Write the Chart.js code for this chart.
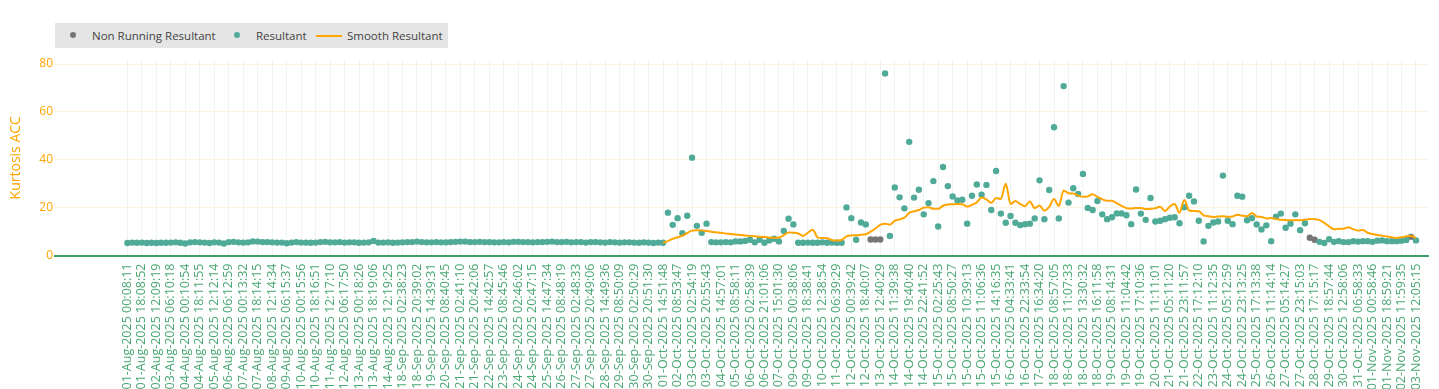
<!DOCTYPE html>
<html>
<head>
<meta charset="utf-8">
<title>Kurtosis ACC</title>
<script src="https://cdn.jsdelivr.net/npm/chart.js@4.4.0/dist/chart.umd.min.js"></script>
<style>
  body { margin: 0; background: #fff; font-family: "Open Sans", sans-serif; }
  .wrap { position: relative; width: 1439px; height: 389px; }
  #legend { position: absolute; left: 55px; top: 23px; width: 393px; height: 25px; background: #e5e5e5; font-size: 11.5px; color: #444; }
  #legend .item { position: absolute; top: 0; height: 25px; line-height: 25px; white-space: nowrap; }
  #legend .dot { position: absolute; top: 9px; width: 6px; height: 6px; border-radius: 50%; }
  #legend .line { position: absolute; top: 12px; width: 26px; height: 2px; }
</style>
</head>
<body>
<div class="wrap">
  <canvas id="kurt-chart" width="1439" height="389"></canvas>
  <div id="legend"></div>
</div>
<script>
// tick labels, one every 3 readings
const tickLabels = [
  "01-Aug-2025 00:08:11", "01-Aug-2025 18:08:52", "02-Aug-2025 12:09:19", "03-Aug-2025 06:10:18",
  "04-Aug-2025 00:10:54", "04-Aug-2025 18:11:55", "05-Aug-2025 12:12:14", "06-Aug-2025 06:12:59",
  "07-Aug-2025 00:13:32", "07-Aug-2025 18:14:15", "08-Aug-2025 12:14:34", "09-Aug-2025 06:15:37",
  "10-Aug-2025 00:15:56", "10-Aug-2025 18:16:51", "11-Aug-2025 12:17:10", "12-Aug-2025 06:17:50",
  "13-Aug-2025 00:18:26", "13-Aug-2025 18:19:06", "14-Aug-2025 12:19:25", "18-Sep-2025 02:38:23",
  "18-Sep-2025 20:39:02", "19-Sep-2025 14:39:31", "20-Sep-2025 08:40:45", "21-Sep-2025 02:41:10",
  "21-Sep-2025 20:42:06", "22-Sep-2025 14:42:57", "23-Sep-2025 08:45:46", "24-Sep-2025 02:46:02",
  "24-Sep-2025 20:47:15", "25-Sep-2025 14:47:34", "26-Sep-2025 08:48:19", "27-Sep-2025 02:48:33",
  "27-Sep-2025 20:49:06", "28-Sep-2025 14:49:36", "29-Sep-2025 08:50:09", "30-Sep-2025 02:50:29",
  "30-Sep-2025 20:51:30", "01-Oct-2025 14:51:48", "02-Oct-2025 08:53:47", "03-Oct-2025 02:54:19",
  "03-Oct-2025 20:55:43", "04-Oct-2025 14:57:01", "05-Oct-2025 08:58:11", "06-Oct-2025 02:58:39",
  "06-Oct-2025 21:01:06", "07-Oct-2025 15:01:30", "09-Oct-2025 00:38:06", "09-Oct-2025 18:38:41",
  "10-Oct-2025 12:38:54", "11-Oct-2025 06:39:29", "12-Oct-2025 00:39:42", "12-Oct-2025 18:40:07",
  "13-Oct-2025 12:40:29", "14-Oct-2025 11:39:38", "14-Oct-2025 19:40:40", "14-Oct-2025 22:41:52",
  "15-Oct-2025 02:25:43", "15-Oct-2025 08:50:27", "15-Oct-2025 10:39:13", "15-Oct-2025 11:06:36",
  "15-Oct-2025 14:16:35", "16-Oct-2025 04:33:41", "16-Oct-2025 22:33:54", "17-Oct-2025 16:34:20",
  "18-Oct-2025 08:57:05", "18-Oct-2025 11:07:33", "18-Oct-2025 13:30:32", "18-Oct-2025 16:11:58",
  "19-Oct-2025 08:14:31", "19-Oct-2025 11:04:42", "19-Oct-2025 17:10:36", "20-Oct-2025 11:11:01",
  "21-Oct-2025 05:11:20", "21-Oct-2025 23:11:57", "22-Oct-2025 17:12:10", "23-Oct-2025 11:12:35",
  "24-Oct-2025 05:12:59", "24-Oct-2025 23:13:25", "25-Oct-2025 17:13:38", "26-Oct-2025 11:14:14",
  "27-Oct-2025 05:14:27", "27-Oct-2025 23:15:03", "28-Oct-2025 17:15:17", "29-Oct-2025 18:57:44",
  "30-Oct-2025 12:58:06", "31-Oct-2025 06:58:33", "01-Nov-2025 00:58:46", "01-Nov-2025 18:59:21",
  "02-Nov-2025 11:59:35", "03-Nov-2025 12:05:15"
];

// resultant per reading (null where machine was not running)
const resultant = [
  5.2, 5.4, 5.3, 5.4, 5.2, 5.3, 5.2, 5.3, 5.3, 5.4,
  5.5, 5.3, 5.0, 5.5, 5.6, 5.5, 5.4, 5.2, 5.5, 5.4,
  5.0, 5.6, 5.7, 5.5, 5.4, 5.5, 5.9, 5.8, 5.6, 5.6,
  5.5, 5.4, 5.4, 5.1, 5.4, 5.6, 5.4, 5.4, 5.3, 5.4,
  5.6, 5.7, 5.5, 5.5, 5.6, 5.4, 5.5, 5.5, 5.3, 5.4,
  5.5, 6.1, 5.4, 5.4, 5.5, 5.3, 5.4, 5.5, 5.6, 5.6,
  5.8, 5.6, 5.5, 5.5, 5.6, 5.5, 5.5, 5.6, 5.7, 5.8,
  5.8, 5.6, 5.6, 5.7, 5.6, 5.6, 5.5, 5.5, 5.6, 5.5,
  5.7, 5.7, 5.6, 5.6, 5.5, 5.6, 5.6, 5.7, 5.8, 5.6,
  5.6, 5.7, 5.5, 5.6, 5.6, 5.4, 5.6, 5.6, 5.5, 5.4,
  5.6, 5.5, 5.4, 5.5, 5.5, 5.4, 5.3, 5.5, 5.4, 5.2,
  5.4, 5.3, 17.9, 12.8, 15.6, 9.3, 16.6, 40.9, 12.4, 9.5,
  13.3, 5.6, 5.5, 5.5, 5.6, 5.5, 5.9, 5.9, 6.1, 6.6,
  5.5, 6.6, 5.3, 6.3, 7.0, 5.9, 10.3, 15.4, 13.0, 5.3,
  5.3, 5.4, 5.3, 5.3, 5.5, 5.3, 5.4, 5.3, 5.3, 20.1,
  15.6, 6.6, 13.8, 13.0, null, null, null, 76.1, 8.2, 28.4,
  24.3, 19.7, 47.5, 24.2, 27.5, 17.2, 21.9, 31.1, 12.1, 37.0,
  29.0, 24.7, 23.0, 23.3, 13.3, 25.0, 29.7, 25.4, 29.5, 19.0,
  35.3, 17.5, 13.7, 16.5, 13.7, 12.7, 13.1, 13.3, 15.5, 31.4,
  15.2, 27.4, 53.6, 15.5, 70.8, 22.1, 28.1, 25.7, 34.1, 19.9,
  19.0, 22.8, 17.2, 15.2, 16.0, 17.6, 17.6, 16.8, 13.1, 27.6,
  17.5, 14.9, 24.0, 14.2, 14.5, 15.2, 15.8, 16.0, 13.5, 20.2,
  25.0, 22.6, 14.5, 5.9, 12.4, 13.8, 14.2, 33.4, 14.5, 13.1,
  25.0, 24.6, 14.7, 15.6, 13.0, 10.9, 12.6, 6.0, 16.2, 17.5,
  11.6, 13.3, 17.2, 10.6, 13.5, null, null, 5.7, 5.2, 6.8,
  5.7, 6.0, 5.6, 5.6, 6.0, 5.8, 6.0, 6.0, 5.7, 6.2,
  6.3, 6.0, 6.0, 6.0, 6.2, 6.5, null, 6.3
];

// non running readings
const nonRunIdx = [154, 155, 156, 245, 246, 266];
const nonRunVals = [6.7, 6.7, 6.7, 7.4, 6.6, 7.8];

// smoothed resultant, starts at reading 111
const smoothStart = 111;
const smooth = [
  5.3, 6.0, 7.0, 7.6, 8.3, 9.4, 10.4, 10.6, 10.5, 10.2,
  9.9, 9.7, 9.5, 9.2, 9.0, 8.8, 8.6, 8.4, 8.2, 8.0,
  7.8, 7.7, 7.5, 7.4, 7.5, 8.5, 9.6, 9.5, 9.2, 8.2,
  9.5, 10.8, 7.6, 7.3, 7.2, 6.4, 6.3, 6.5, 8.0, 8.4,
  8.5, 8.7, 8.9, 10.0, 11.3, 12.8, 13.3, 12.9, 14.5, 15.1,
  15.8, 17.8, 18.5, 19.0, 20.0, 20.2, 19.5, 19.5, 20.8, 21.3,
  21.4, 21.5, 21.4, 20.5, 21.2, 22.2, 24.2, 23.5, 22.0, 24.0,
  23.6, 30.0, 21.5, 22.8, 21.5, 20.6, 22.6, 19.8, 20.9, 18.8,
  20.3, 23.6, 20.7, 27.2, 26.0, 25.9, 25.0, 24.5, 24.7, 25.6,
  24.5, 23.5, 22.9, 22.9, 21.8, 20.7, 19.8, 19.6, 19.9, 19.9,
  19.4, 19.5, 19.8, 20.4, 18.6, 20.5, 21.5, 17.9, 23.2, 18.8,
  18.6, 18.5, 16.8, 16.4, 16.1, 16.3, 16.4, 16.2, 16.3, 17.0,
  16.6, 16.4, 17.8, 16.3, 16.1, 15.5, 15.7, 15.3, 14.9, 14.8,
  14.7, 14.7, 14.7, 14.9, 15.3, 15.2, 14.8, 13.6, 12.2, 11.0,
  11.2, 11.2, 11.8, 11.0, 10.4, 10.7, 9.5, 9.0, 8.6, 8.3,
  7.9, 7.6, 7.3, 7.6, 8.0, 8.2, 7.3
];

const yTicks = [0, 20, 40, 60, 80];

const GREEN = "#3c9e6a";
const LABEL_GREEN = "#4aa874";
const ORANGE = "#ffa500";
const GREY = "#767676";
const TEAL = "#4faa98";

let config = {
  type: "scatter",
  data: {
    datasets: [
      {
        label: "Smooth Resultant",
        type: "line",
        data: smooth.map((v, k) => ({ x: smoothStart + k, y: v })),
        borderColor: ORANGE,
        borderWidth: 2,
        pointRadius: 0,
        cubicInterpolationMode: "monotone",
        fill: false,
        order: 0,
      },
      {
        label: "Resultant",
        data: resultant.map((v, i) => ({ x: i, y: v })),
        backgroundColor: TEAL,
        borderColor: TEAL,
        pointRadius: 3.2,
        borderWidth: 0,
        order: 1,
      },
      {
        label: "Non Running Resultant",
        data: nonRunIdx.map((i, k) => ({ x: i, y: nonRunVals[k] })),
        backgroundColor: GREY,
        borderColor: GREY,
        pointRadius: 3.2,
        borderWidth: 0,
        order: 2,
      },
    ],
  },
  options: {
    responsive: false,
    animation: false,
    devicePixelRatio: 1,
    layout: { padding: { top: 60, right: 2, left: 0, bottom: 0 } },
    plugins: { legend: { display: false }, tooltip: { enabled: false } },
    scales: {
      x: {
        type: "linear",
        min: -15,
        max: 269.5,
        afterBuildTicks: (scale) => {
          scale.ticks = tickLabels.map((_, k) => ({ value: 3 * k }));
        },
        afterFit: (scale) => { scale.height = 133.5; },
        ticks: {
          autoSkip: false,
          minRotation: 90,
          maxRotation: 90,
          padding: 8,
          color: LABEL_GREEN,
          font: { family: "Open Sans", size: 12.5 },
          callback: (v) => tickLabels[v / 3] ?? "",
        },
        grid: { color: "#edf4f1", drawTicks: false },
        border: { color: GREEN, width: 2 },
      },
      y: {
        min: 0,
        max: 81.7,
        afterBuildTicks: (scale) => {
          scale.ticks = yTicks.map((v) => ({ value: v }));
        },
        afterFit: (scale) => { scale.width = 55; },
        ticks: {
          padding: 2,
          color: ORANGE,
          font: { family: "Open Sans", size: 12 },
        },
        grid: { color: "#fdf3e2", drawTicks: false },
        border: { display: false },
        title: {
          display: true,
          text: "Kurtosis ACC",
          color: ORANGE,
          font: { family: "Open Sans", size: 14 },
          padding: { top: 8, bottom: 0 },
        },
      },
    },
  },
};

let ctx = document.getElementById("kurt-chart").getContext("2d");
window.kurtChart = new Chart(ctx, config);

// plotly-like legend box
const legendItems = [
  { label: "Non Running Resultant", kind: "dot", color: GREY, mark: 15, text: 37 },
  { label: "Resultant", kind: "dot", color: TEAL, mark: 179, text: 201 },
  { label: "Smooth Resultant", kind: "line", color: ORANGE, mark: 261, text: 292 },
];
const legend = document.getElementById("legend");
legendItems.forEach((it) => {
  const m = document.createElement("div");
  m.className = it.kind;
  m.style.left = it.mark + "px";
  m.style.background = it.color;
  legend.appendChild(m);
  const t = document.createElement("div");
  t.className = "item";
  t.style.left = it.text + "px";
  t.textContent = it.label;
  legend.appendChild(t);
});
</script>
</body>
</html>
